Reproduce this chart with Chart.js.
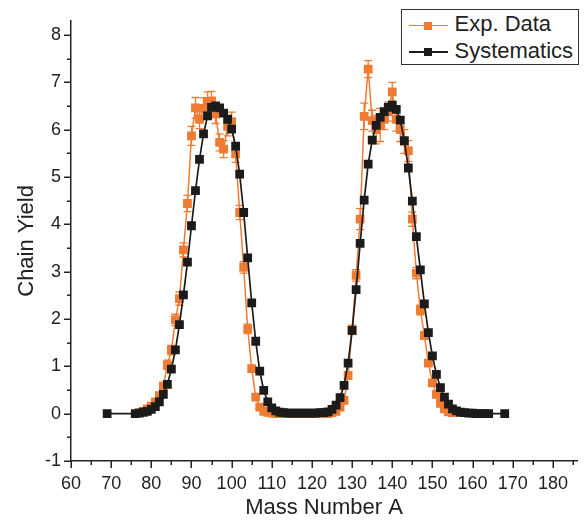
<!DOCTYPE html>
<html>
<head>
<meta charset="utf-8">
<script src="https://cdn.jsdelivr.net/npm/chart.js@4.4.1/dist/chart.umd.min.js"></script>
<style>
  html, body { margin: 0; padding: 0; background: #fff; }
  #wrap { position: relative; width: 586px; height: 521px; }
  #legend {
    position: absolute; left: 401px; top: 9px; width: 178px; height: 56px;
    box-sizing: border-box; border: 1.5px solid #333; background: #fff;
    font: 22px "Liberation Sans", Arial, sans-serif; color: #222;
  }
  #legend .ln { position: absolute; left: 6.5px; width: 39px; height: 1.5px; }
  #legend .sq { position: absolute; left: 22px; width: 8px; height: 8px; }
  #legend .tx { position: absolute; left: 52.5px; line-height: 22px; white-space: nowrap; }
</style>
</head>
<body>
<div id="wrap">
  <canvas id="chart" width="586" height="521"></canvas>
  <div id="legend">
    <div class="ln" style="top:14.75px;background:#EF7B33"></div>
    <div class="sq" style="top:11.5px;background:#EF7B33"></div>
    <div class="tx" style="top:3.2px">Exp. Data</div>
    <div class="ln" style="top:41.45px;background:#1b1b1b"></div>
    <div class="sq" style="top:38.2px;background:#1b1b1b"></div>
    <div class="tx" style="top:29.9px">Systematics</div>
  </div>
</div>
<script>
// values
const sysMass = [69, 76, 77, 78, 79, 80, 81, 82, 83, 84, 85, 86, 87, 88, 89, 90, 91, 92, 93, 94,
  95, 96, 97, 98, 99, 100, 101, 102, 103, 104, 105, 106, 107, 108, 109, 110, 111, 112, 113, 114,
  115, 116, 117, 118, 119, 120, 121, 122, 123, 124, 125, 126, 127, 128, 129, 130, 131, 132, 133, 134,
  135, 136, 137, 138, 139, 140, 141, 142, 143, 144, 145, 146, 147, 148, 149, 150, 151, 152, 153, 154,
  155, 156, 157, 158, 159, 160, 161, 162, 163, 164, 168];
const sysYield = [0, 0, 0.01, 0.03, 0.05, 0.09, 0.15, 0.25, 0.41, 0.62, 0.94, 1.35, 1.88, 2.51, 3.2, 3.97, 4.71, 5.37, 5.91, 6.29,
  6.47, 6.5, 6.46, 6.35, 6.22, 6.01, 5.65, 5.06, 4.25, 3.29, 2.34, 1.53, 0.9, 0.49, 0.25, 0.12, 0.06, 0.03, 0.02, 0.01,
  0.01, 0.01, 0.01, 0.01, 0.01, 0.01, 0.01, 0.02, 0.02, 0.04, 0.09, 0.18, 0.34, 0.6, 1.07, 1.76, 2.62, 3.6, 4.51, 5.27,
  5.78, 6.09, 6.26, 6.38, 6.47, 6.52, 6.43, 6.2, 5.77, 5.19, 4.49, 3.74, 3.04, 2.32, 1.71, 1.22, 0.83, 0.55, 0.35, 0.2,
  0.1, 0.06, 0.03, 0.02, 0.01, 0.01, 0, 0, 0, 0, 0];

const expMass = [77, 78, 79, 80, 81, 82, 83, 84, 85, 86, 87, 88, 89, 90, 91, 92, 93, 94, 95, 96,
  97, 98, 99, 100, 101, 102, 103, 104, 105, 106, 107, 108, 109, 110, 111, 112, 113, 114, 115, 116,
  117, 118, 119, 120, 121, 122, 123, 124, 125, 126, 127, 128, 129, 130, 131, 132, 133, 134, 135, 136,
  137, 138, 139, 140, 141, 142, 143, 144, 145, 146, 147, 148, 149, 150, 151, 152, 153, 154, 155];
const expYield = [0.02, 0.05, 0.1, 0.16, 0.25, 0.38, 0.58, 1.03, 1.34, 1.98, 2.43, 3.46, 4.44, 5.87, 6.46, 6.22, 6.45, 6.6, 6.61, 6.33,
  5.73, 5.59, 6.07, 6.17, 5.49, 4.25, 3.09, 1.79, 0.95, 0.35, 0.14, 0.05, 0.03, 0.01, 0, 0, 0, 0, 0, 0,
  0, 0, 0, 0, 0, 0, 0, 0, 0.02, 0.05, 0.14, 0.28, 0.81, 1.77, 2.92, 4.11, 6.28, 7.28, 6.19, 6.0,
  6.1, 6.22, 6.38, 6.8, 6.22, 6.0, 5.75, 5.55, 4.11, 2.97, 2.19, 1.65, 1.07, 0.65, 0.41, 0.22, 0.1, 0.04, 0.02];
const expErr = [0.02, 0.03, 0.04, 0.05, 0.06, 0.07, 0.08, 0.1, 0.1, 0.12, 0.14, 0.15, 0.17, 0.2, 0.22, 0.2, 0.22, 0.2, 0.2, 0.2,
  0.18, 0.18, 0.2, 0.2, 0.18, 0.15, 0.12, 0.1, 0.07, 0.04, 0.03, 0.02, 0.02, 0.01, 0.01, 0.01, 0.01, 0.01, 0.01, 0.01,
  0.01, 0.01, 0.01, 0.01, 0.01, 0.01, 0.01, 0.01, 0.02, 0.03, 0.04, 0.06, 0.08, 0.1, 0.12, 0.22, 0.28, 0.18, 0.22, 0.3,
  0.35, 0.22, 0.2, 0.2, 0.25, 0.25, 0.25, 0.22, 0.15, 0.12, 0.1, 0.08, 0.06, 0.05, 0.04, 0.03, 0.02, 0.02, 0.01];

const xTicks = [60, 70, 80, 90, 100, 110, 120, 130, 140, 150, 160, 170, 180];
const xMinor = [65, 75, 85, 95, 105, 115, 125, 135, 145, 155, 165, 175, 185];
const yTicks = [-1, 0, 1, 2, 3, 4, 5, 6, 7, 8];
const yMinor = [-0.5, 0.5, 1.5, 2.5, 3.5, 4.5, 5.5, 6.5, 7.5];

const ORANGE = "#EF7B33";
const BLACK = "#1b1b1b";
const AXIS = "#222";
const FONT = '"Liberation Sans", Arial, sans-serif';

const errorBars = {
  id: "errorBars",
  afterDatasetDraw(chart, args) {
    if (args.index !== 0) return;
    const { ctx, scales: { x, y } } = chart;
    ctx.save();
    ctx.strokeStyle = ORANGE;
    ctx.lineWidth = 1.3;
    expMass.forEach((m, i) => {
      const px = x.getPixelForValue(m);
      const top = y.getPixelForValue(expYield[i] + expErr[i]);
      const bot = y.getPixelForValue(expYield[i] - expErr[i]);
      ctx.beginPath();
      ctx.moveTo(px, top); ctx.lineTo(px, bot);
      ctx.moveTo(px - 4, top); ctx.lineTo(px + 4, top);
      ctx.moveTo(px - 4, bot); ctx.lineTo(px + 4, bot);
      ctx.stroke();
    });
    ctx.restore();
  }
};

// outward major / minor ticks like the original plot
const axisTicks = {
  id: "axisTicks",
  afterDraw(chart) {
    const { ctx, chartArea, scales: { x, y } } = chart;
    ctx.save();
    ctx.strokeStyle = AXIS;
    ctx.lineWidth = 1.5;
    ctx.beginPath();
    const tx = (v, len) => {
      const p = Math.round(x.getPixelForValue(v)) + 0.25;
      ctx.moveTo(p, chartArea.bottom); ctx.lineTo(p, chartArea.bottom + len);
    };
    const ty = (v, len) => {
      const p = Math.round(y.getPixelForValue(v)) + 0.25;
      ctx.moveTo(chartArea.left, p); ctx.lineTo(chartArea.left - len, p);
    };
    xTicks.forEach(v => tx(v, 7));
    xMinor.forEach(v => tx(v, 4));
    yTicks.forEach(v => ty(v, 7));
    yMinor.forEach(v => ty(v, 4));
    ctx.stroke();
    ctx.restore();
  }
};

new Chart(document.getElementById("chart"), {
  type: "line",
  data: {
    datasets: [
      {
        label: "Exp. Data",
        data: expMass.map((m, i) => ({ x: m, y: expYield[i] })),
        borderColor: ORANGE,
        backgroundColor: ORANGE,
        borderWidth: 1.5,
        pointStyle: "rect",
        pointRadius: 6.2,
        pointBorderWidth: 0,
        pointBackgroundColor: ORANGE,
        tension: 0,
        order: 1
      },
      {
        label: "Systematics",
        data: sysMass.map((m, i) => ({ x: m, y: sysYield[i] })),
        borderColor: BLACK,
        backgroundColor: BLACK,
        borderWidth: 1.7,
        pointStyle: "rect",
        pointRadius: 6.2,
        pointBorderWidth: 0,
        pointBackgroundColor: BLACK,
        tension: 0,
        order: 0
      }
    ]
  },
  options: {
    responsive: false,
    animation: false,
    layout: { padding: { left: 0, top: 20, right: 9, bottom: 0 } },
    plugins: { legend: { display: false }, tooltip: { enabled: false } },
    scales: {
      x: {
        type: "linear",
        min: 60,
        max: 186,
        afterBuildTicks: (s) => { s.ticks = xTicks.map(v => ({ value: v })); },
        afterFit: (s) => { s.height = 60; },
        grid: { display: false, drawTicks: false },
        border: { display: true, color: AXIS, width: 1.5 },
        ticks: { autoSkip: false, maxRotation: 0, padding: 12, color: "#222", font: { family: FONT, size: 18 } },
        title: { display: true, text: "Mass Number A", color: "#222", padding: { top: 0, bottom: 0 }, font: { family: FONT, size: 22 } }
      },
      y: {
        min: -1,
        max: 8.3,
        afterBuildTicks: (s) => { s.ticks = yTicks.map(v => ({ value: v })); },
        afterFit: (s) => { s.width = 71; },
        grid: { display: false, drawTicks: false },
        border: { display: true, color: AXIS, width: 1.5 },
        ticks: { autoSkip: false, padding: 10, color: "#222", font: { family: FONT, size: 18 } },
        title: { display: true, text: "Chain Yield", color: "#222", padding: { top: 14, bottom: 0 }, font: { family: FONT, size: 22 } }
      }
    }
  },
  plugins: [errorBars, axisTicks]
});
</script>
</body>
</html>
